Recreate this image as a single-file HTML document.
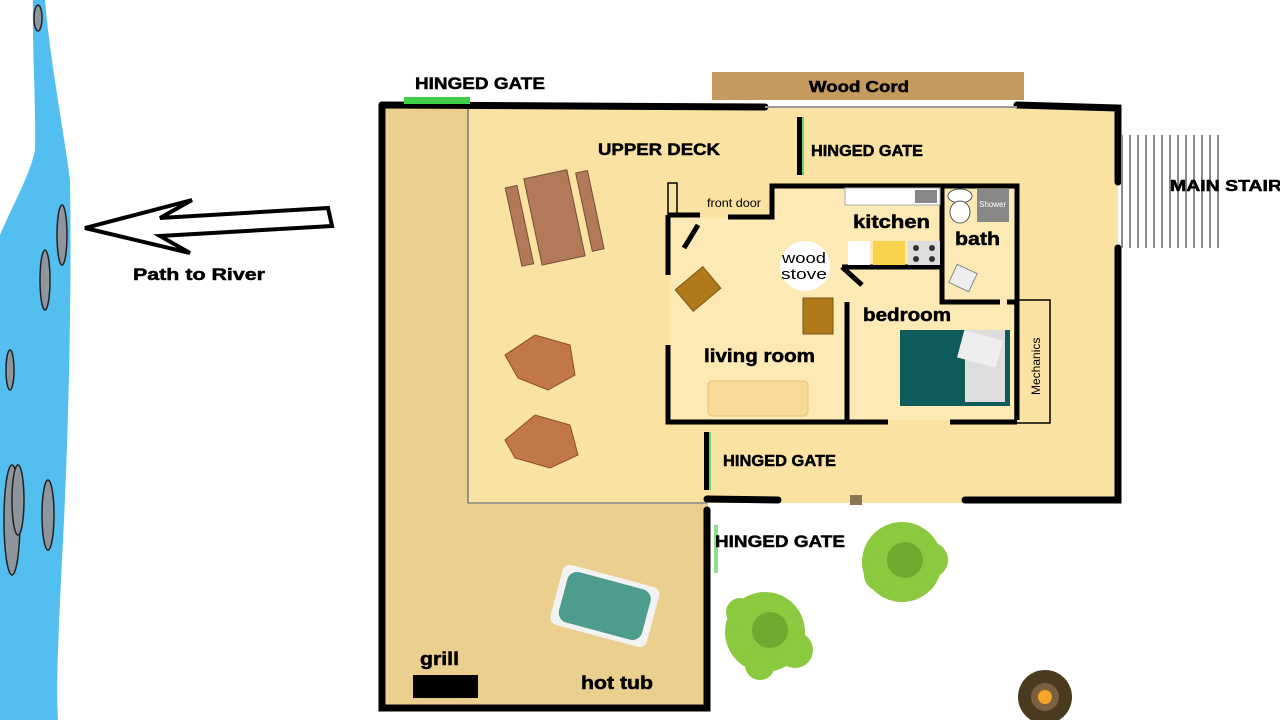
<!DOCTYPE html>
<html><head><meta charset="utf-8"><style>
html,body{margin:0;padding:0;background:#fff;width:1280px;height:720px;overflow:hidden}
svg{display:block}
text{font-family:"Liberation Sans",Arial,sans-serif}
.b{font-weight:bold;fill:#000;stroke:#000;stroke-width:0.5}
</style></head><body>
<svg width="1280" height="720" viewBox="0 0 1280 720" xmlns="http://www.w3.org/2000/svg">
<!-- river -->
<path d="M33,0 L45,0 C50,60 62,120 70,180 C72,300 68,450 62,560 C58,640 56,690 58,720 L0,720 L0,235 C15,200 30,175 35,150 C36,100 32,50 33,0Z" fill="#53bff0"/>
<g fill="#8f959c" stroke="#222" stroke-width="1.5">
<ellipse cx="38" cy="18" rx="4" ry="13"/>
<ellipse cx="62" cy="235" rx="5" ry="30"/>
<ellipse cx="45" cy="280" rx="5" ry="30"/>
<ellipse cx="10" cy="370" rx="4" ry="20"/>
<ellipse cx="12" cy="520" rx="8" ry="55"/>
<ellipse cx="18" cy="500" rx="6" ry="35"/>
<ellipse cx="48" cy="515" rx="6" ry="35"/>
</g>
<!-- arrow -->
<path d="M85,228 L192,200 L160,218 L328,208 L332,226 L160,236 L190,253 Z" fill="#fff" stroke="#000" stroke-width="4" stroke-linejoin="miter"/>
<text x="133" y="280" class="b" font-size="17" textLength="132" lengthAdjust="spacingAndGlyphs">Path to River</text>

<!-- deck fills -->
<rect x="382" y="104" width="90" height="606" fill="#ebcf8f"/>
<rect x="382" y="503" width="326" height="207" fill="#ebcf8f"/>
<rect x="468" y="107" width="650" height="396" fill="#f9e2a2"/>
<line x1="468" y1="108" x2="468" y2="503" stroke="#777" stroke-width="1.5"/>
<line x1="468" y1="503" x2="707" y2="503" stroke="#888" stroke-width="1.5"/>
<!-- wood cord -->
<rect x="712" y="72" width="312" height="28" fill="#c49a5f"/>
<text x="809" y="92" class="b" font-size="16" textLength="100" lengthAdjust="spacingAndGlyphs">Wood Cord</text>
<!-- outer walls -->
<g stroke="#000" stroke-width="7" stroke-linecap="round" fill="none">
<path d="M382,105 L765,107"/>
<path d="M1017,105 L1118,108 L1118,182"/>
<path d="M1118,248 L1118,500 L965,500"/>
<path d="M778,500 L707,499"/>
<path d="M382,105 L382,708 L707,708 L707,510"/>
</g>
<line x1="765" y1="107" x2="1017" y2="107" stroke="#999" stroke-width="2"/>
<rect x="404" y="97" width="66" height="7" fill="#3fd048"/>
<rect x="850" y="495" width="12" height="10" fill="#8a7655"/>
<!-- gates -->
<rect x="797" y="117" width="5" height="58" fill="#000"/><rect x="802" y="117" width="2" height="58" fill="#6ad66a"/>
<rect x="704" y="432" width="5" height="58" fill="#000"/><rect x="709" y="432" width="2" height="58" fill="#6ad66a"/>
<rect x="714" y="525" width="4" height="48" fill="#8be08b"/>
<!-- stairs -->
<g stroke="#888" stroke-width="2">
<line x1="1122" y1="135" x2="1122" y2="248"/><line x1="1130" y1="135" x2="1130" y2="248"/><line x1="1138" y1="135" x2="1138" y2="248"/><line x1="1146" y1="135" x2="1146" y2="248"/><line x1="1154" y1="135" x2="1154" y2="248"/><line x1="1162" y1="135" x2="1162" y2="248"/><line x1="1170" y1="135" x2="1170" y2="248"/><line x1="1178" y1="135" x2="1178" y2="248"/><line x1="1186" y1="135" x2="1186" y2="248"/><line x1="1194" y1="135" x2="1194" y2="248"/><line x1="1202" y1="135" x2="1202" y2="248"/><line x1="1210" y1="135" x2="1210" y2="248"/><line x1="1218" y1="135" x2="1218" y2="248"/>
</g>
<text x="1170" y="191" class="b" font-size="16" textLength="112" lengthAdjust="spacingAndGlyphs">MAIN STAIR</text>

<!-- house -->
<path d="M670,216 L700,216 L700,218 L772,218 L772,186 L1015,186 L1015,420 L670,420 Z" fill="#fde9b4"/>
<rect x="668" y="183" width="9" height="33" fill="none" stroke="#000" stroke-width="1.5"/>
<g stroke="#000" stroke-width="5" fill="none">
<path d="M668,215 L700,215"/>
<path d="M728,217 L772,217 L772,186 L1017,186 L1017,420"/>
<path d="M668,215 L668,275"/><path d="M668,345 L668,422 L888,422"/><path d="M950,422 L1017,422"/>
<path d="M847,302 L847,420"/>
<path d="M942,188 L942,302 L1000,302"/><path d="M1007,302 L1017,302"/>
<path d="M842,267 L942,267"/>
<path d="M842,267 L862,285"/>
<path d="M698,225 L684,248"/>
</g>
<rect x="1015" y="300" width="35" height="123" fill="none" stroke="#000" stroke-width="1.5"/>
<text transform="translate(1040,395) rotate(-90)" font-size="12">Mechanics</text>
<!-- kitchen -->
<rect x="845" y="188" width="95" height="17" fill="#fff" stroke="#aaa"/>
<rect x="915" y="190" width="22" height="13" fill="#888"/>
<rect x="848" y="241" width="22" height="24" fill="#fff"/>
<rect x="873" y="241" width="32" height="24" fill="#f7d24a"/>
<rect x="908" y="241" width="32" height="24" fill="#ddd"/>
<g fill="#333"><circle cx="916" cy="248" r="3"/><circle cx="932" cy="248" r="3"/><circle cx="916" cy="259" r="3"/><circle cx="932" cy="259" r="3"/></g>
<!-- bath -->
<ellipse cx="960" cy="196" rx="12" ry="7" fill="#fff" stroke="#555"/>
<ellipse cx="960" cy="212" rx="10" ry="11" fill="#fff" stroke="#555"/>
<rect x="977" y="189" width="32" height="33" fill="#888"/>
<text x="979" y="207" font-size="8" fill="#fff">Shower</text>
<rect x="952" y="268" width="22" height="20" fill="#eee" stroke="#888" transform="rotate(25 963 278)"/>
<!-- stove -->
<circle cx="805" cy="266" r="25" fill="#fff"/>
<!-- bed -->
<rect x="900" y="330" width="110" height="76" fill="#0d5b5b"/>
<rect x="965" y="330" width="40" height="72" fill="#ddd"/>
<rect x="960" y="335" width="40" height="28" fill="#eee" transform="rotate(15 980 349)"/>
<!-- sofa -->
<rect x="708" y="381" width="100" height="35" rx="4" fill="#f8d996" stroke="#e8c47a"/>
<!-- chairs -->
<g fill="#b07a1a" stroke="#7a5410">
<rect x="680" y="275" width="36" height="28" transform="rotate(-40 698 289)"/>
<rect x="803" y="298" width="30" height="36"/>
</g>
<!-- picnic table -->
<g transform="rotate(-12 556 215)" fill="#b27a5a" stroke="#7a4e38">
<rect x="512" y="178" width="12" height="80"/>
<rect x="532" y="173" width="44" height="88"/>
<rect x="584" y="178" width="12" height="80"/>
</g>
<!-- adirondack -->
<g fill="#c27748" stroke="#8a4c2a">
<path d="M505,355 L535,335 L570,345 L575,375 L548,390 L518,378 Z"/>
<path d="M505,440 L535,415 L570,425 L578,455 L550,468 L515,458 Z"/>
</g>
<!-- hot tub -->
<g transform="rotate(15 605 605)">
<rect x="555" y="575" width="100" height="62" rx="8" fill="#f2f2f2"/>
<rect x="562" y="580" width="86" height="52" rx="10" fill="#4e9c8d"/>
</g>
<rect x="413" y="675" width="65" height="23" fill="#000"/>
<!-- trees -->
<g fill="#8bc93e">
<circle cx="765" cy="632" r="40"/><circle cx="740" cy="612" r="14"/><circle cx="795" cy="650" r="18"/><circle cx="760" cy="665" r="15"/>
<circle cx="902" cy="562" r="40"/><circle cx="930" cy="560" r="18"/><circle cx="880" cy="575" r="16"/>
</g>
<g fill="#6faa2e"><circle cx="770" cy="630" r="18"/><circle cx="905" cy="560" r="18"/></g>
<!-- fire pit -->
<circle cx="1045" cy="697" r="27" fill="#4a3a1f"/>
<circle cx="1045" cy="697" r="14" fill="#7a6040"/>
<circle cx="1045" cy="697" r="7" fill="#f5a523"/>

<!-- labels -->
<text x="415" y="89" class="b" font-size="17" textLength="130" lengthAdjust="spacingAndGlyphs">HINGED GATE</text>
<text x="598" y="155" class="b" font-size="17" textLength="122" lengthAdjust="spacingAndGlyphs">UPPER DECK</text>
<text x="811" y="156" class="b" font-size="16" textLength="112" lengthAdjust="spacingAndGlyphs">HINGED GATE</text>
<text x="707" y="207" font-size="12" textLength="54" lengthAdjust="spacingAndGlyphs">front door</text>
<text x="853" y="228" class="b" font-size="18" textLength="77" lengthAdjust="spacingAndGlyphs">kitchen</text>
<text x="955" y="245" class="b" font-size="18" textLength="45" lengthAdjust="spacingAndGlyphs">bath</text>
<text x="782" y="263" font-size="15" textLength="44" lengthAdjust="spacingAndGlyphs">wood</text>
<text x="781" y="279" font-size="15" textLength="46" lengthAdjust="spacingAndGlyphs">stove</text>
<text x="863" y="321" class="b" font-size="18" textLength="88" lengthAdjust="spacingAndGlyphs">bedroom</text>
<text x="704" y="362" class="b" font-size="18" textLength="111" lengthAdjust="spacingAndGlyphs">living room</text>
<text x="723" y="466" class="b" font-size="16" textLength="113" lengthAdjust="spacingAndGlyphs">HINGED GATE</text>
<text x="715" y="547" class="b" font-size="17" textLength="130" lengthAdjust="spacingAndGlyphs">HINGED GATE</text>
<text x="420" y="665" class="b" font-size="18" textLength="39" lengthAdjust="spacingAndGlyphs">grill</text>
<text x="581" y="689" class="b" font-size="18" textLength="72" lengthAdjust="spacingAndGlyphs">hot tub</text>
</svg>
</body></html>
